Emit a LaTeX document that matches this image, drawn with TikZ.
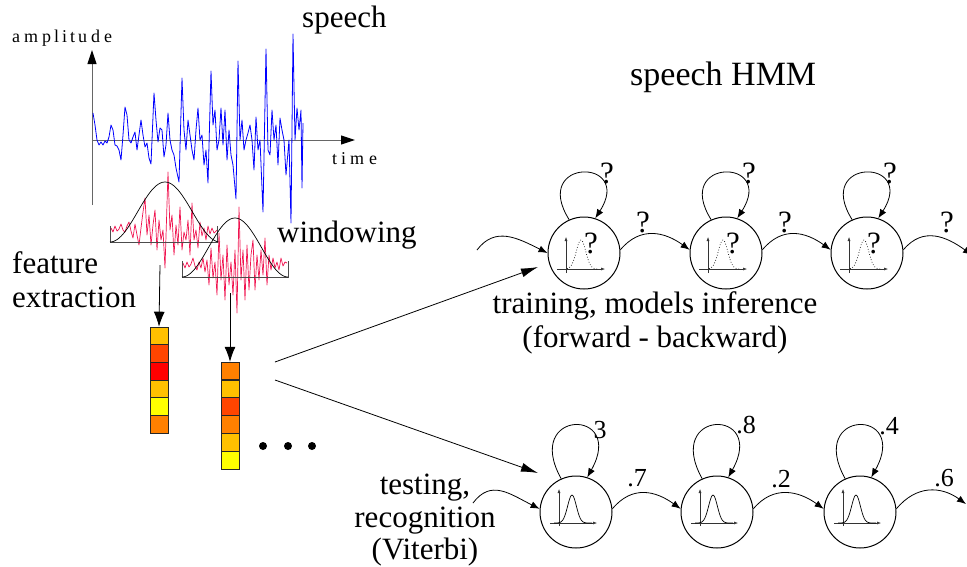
\documentclass[tikz,border=0pt]{standalone}
\usepackage{fontspec}
\setmainfont{Liberation Serif}
\usetikzlibrary{arrows.meta,calc}
\definecolor{amber}{RGB}{255,192,0}
\definecolor{orred}{RGB}{255,69,0}
\definecolor{fred}{RGB}{255,0,0}
\definecolor{yel}{RGB}{255,255,0}
\definecolor{org}{RGB}{255,128,0}
\definecolor{sig}{RGB}{0,0,255}
\definecolor{win}{RGB}{240,20,80}
\tikzset{
  lbl/.style={inner sep=0, font=\fontsize{31}{34}\selectfont},
  title/.style={inner sep=0, font=\fontsize{34}{38}\selectfont},
  axlbl/.style={inner sep=0, font=\fontsize{18}{21}\selectfont},
  qm/.style={inner sep=0, font=\fontsize{31}{33}\selectfont},
  prob/.style={inner sep=0, font=\fontsize{26}{28}\selectfont},
  state/.style={circle, draw, line width=1pt, minimum size=72pt, inner sep=0},
  tr/.style={line width=0.8pt, -{Latex[length=9pt,width=7pt]}},
  bigarrow/.style={line width=0.8pt, -{Latex[length=17pt,width=9pt]}},
  downarrow/.style={line width=0.8pt, -{Latex[length=15pt,width=11pt]}},
  axis/.style={black!60, line width=1pt, -{Triangle[length=14pt,width=9pt,color=black]}},
  cell/.style={rectangle, draw=black!85, line width=0.6pt, minimum width=18pt, minimum height=17.7pt, inner sep=0},
  dotmark/.style={circle, fill, minimum size=8pt, inner sep=0},
  minaxis/.style={black!80, line width=0.5pt, -{Latex[length=4pt,width=3pt]}},
  % emission density drawn inside an untrained state
  pdfunknown/.pic={
    \draw[minaxis] (-18,20) -- (-18,-16);
    \draw[minaxis] (-27,16) -- (21,16);
    \draw[dotted, line width=0.7pt] plot[domain=-17:14, samples=40, smooth]
      (\x, {16-29*exp(-(\x+3)*(\x+3)/45)});
    \node[qm] (-q) at (7,-10) {?};
  },
  % emission density drawn inside a trained state
  pdfknown/.pic={
    \draw[minaxis] (-17,14) -- (-17,-23);
    \draw[minaxis] (-26,11) -- (21,11);
    \draw[line width=0.7pt] plot[domain=-22:16, samples=40, smooth]
      (\x, {11-28*exp(-(\x+4)*(\x+4)/38)});
  }
}
\begin{document}
\begin{tikzpicture}[x=1pt,y=-1pt]
\useasboundingbox (0,0) rectangle (967,566);

% ---------- speech signal ----------
\node[lbl, anchor=base west] (speech) at (302,27) {speech};
\node[axlbl, anchor=base west] (ampl) at (12,42)
  {a\kern4pt m\kern4pt p\kern3pt l\kern3pt i\kern3pt t\kern3pt u\kern4pt d\kern4pt e};
\node[axlbl, anchor=base west] (time) at (332,164) {t\kern4pt i\kern4pt m\kern5pt e};
\coordinate (yb) at (92,205);
\coordinate (yt) at (92,50);
\coordinate (xl) at (92,140);
\coordinate (xr) at (355,140);
\draw[axis] (yb) -- (yt);
\draw[axis] (xl) -- (xr);

\draw[sig, line width=0.8pt, line join=round] plot coordinates {
(93,113) (95,125) (97,140) (99,145) (101,142) (103,145) (105,141) (107,143)
(109,137) (111,125) (113,130) (115,145) (117,146) (119,150) (121,160) (123,135)
(125,107) (127,115) (129,140) (131,143) (133,137) (135,132) (137,150) (139,135)
(141,120) (143,135) (145,147) (147,143) (149,158) (151,164) (154,93) (156,120)
(158,142) (160,128) (162,130) (164,157) (166,145) (168,113) (170,140) (172,150)
(174,155) (176,168) (179,182) (182,78) (184,130) (186,150) (188,120) (190,135)
(192,150) (194,160) (196,130) (198,108) (200,140) (202,135) (204,165) (206,150)
(208,183) (211,71) (213,125) (215,110) (217,150) (219,140) (221,108) (223,145)
(225,110) (227,160) (229,130) (231,155) (233,165) (236,199) (238,61) (240,140)
(242,120) (244,150) (246,140) (248,133) (250,125) (252,140) (254,170) (256,117)
(258,150) (260,140) (263,212) (266,49) (268,150) (270,155) (272,110) (274,140)
(276,125) (278,165) (280,118) (282,130) (284,140) (286,175) (289,140) (291,223)
(293,34) (295,140) (297,108) (299,130) (301,110) (302,188) (303,123)};

% ---------- windowing ----------
\node[lbl, anchor=base west] (windowing) at (277,242) {windowing};
\draw[win, line width=0.7pt, line join=round] plot coordinates {
(111,228) (113,232) (115,226) (117,231) (119,229) (121,224) (123,230) (125,232)
(127,226) (129,222) (131,231) (133,238) (135,224) (137,235) (139,245) (141,228)
(143,212) (145,198) (147,235) (149,215) (151,245) (153,225) (155,210) (157,250)
(159,220) (161,240) (163,230) (165,268) (168,172) (170,230) (172,215) (174,255)
(176,225) (178,245) (180,207) (182,250) (184,232) (186,240) (188,220) (190,255)
(192,203) (194,240) (196,230) (198,248) (200,222) (202,236) (204,228) (206,240)
(208,226) (210,234) (212,228) (214,233) (217,230)};
\draw[black!70, line width=0.9pt] (110,226) -- (110,242) -- (217,242) -- (217,226);
\draw[line width=0.7pt] plot[domain=110:220, samples=60]
  (\x, {242-60*(0.5+0.5*cos(180*(\x-165)/55))});

\draw[win, line width=0.7pt, line join=round] plot coordinates {
(183,263) (185,268) (187,262) (189,267) (191,264) (193,258) (195,266) (197,270)
(199,262) (201,268) (203,258) (205,272) (207,260) (209,285) (211,248) (213,278)
(215,262) (217,295) (219,233) (221,280) (223,255) (225,300) (227,245) (229,285)
(231,262) (233,295) (235,250) (237,313) (239,207) (241,280) (243,250) (245,300)
(247,245) (249,290) (251,255) (253,240) (255,290) (257,255) (259,280) (261,250)
(263,275) (265,238) (267,285) (269,255) (271,270) (273,258) (275,268) (277,262)
(279,270) (281,258) (283,266) (285,262) (287,263)};
\draw[black!70, line width=0.9pt] (182,261) -- (182,277) -- (288,277) -- (288,261);
\draw[line width=0.7pt] plot[domain=182:288, samples=60]
  (\x, {277-59*(0.5+0.5*cos(180*(\x-235)/53))});

% ---------- feature vectors ----------
\node[lbl, anchor=base west] (feat1) at (12,273) {feature};
\node[lbl, anchor=base west] (feat2) at (12,307) {extraction};
\foreach \col [count=\i] in {amber,orred,fred,amber,yel,org}
  \node[cell, fill=\col] (va\i) at (159,{327+17.67*(\i-0.5)}) {};
\foreach \col [count=\i] in {org,amber,orred,org,amber,yel}
  \node[cell, fill=\col] (vb\i) at (230,{362+17.83*(\i-0.5)}) {};
\coordinate (da) at (160,265);
\coordinate (db) at (230,293);
\draw[downarrow] (da) -- (va1.north);
\draw[downarrow] (db) -- (vb1.north);
\node[dotmark] (dot1) at (263,446) {};
\node[dotmark] (dot2) at (288,446) {};
\node[dotmark] (dot3) at (312,446) {};

\coordinate (fa) at (275,362);
\coordinate (fb) at (275,380);
\coordinate (ta) at (538,267);
\coordinate (tb) at (538,473);
\draw[bigarrow] (fa) -- (ta);
\draw[bigarrow] (fb) -- (tb);

% ---------- HMM being trained ----------
\node[title, anchor=base west] (hmm) at (630,85) {speech HMM};
\node[state] (s1) at (584,253) {};
\node[state] (s2) at (726,253) {};
\node[state] (s3) at (867,253) {};
\pic (p1) at (s1) {pdfunknown};
\pic (p2) at (s2) {pdfunknown};
\pic (p3) at (s3) {pdfunknown};
\foreach \s in {s1,s2,s3}{
  \draw[tr] (\s.114) .. controls ($(\s.114)+(-39,-62)$) and ($(\s.72)+(39,-61)$) .. (\s.72);
  \node[qm] (\s loop) at ($(\s)+(23,-80)$) {?};
}
\coordinate (tin) at (477,250);
\coordinate (tout) at (972,255);
\draw[tr] (tin) .. controls ($(tin)+(18,-24)$) and ($(s1.180)+(-30,-15)$) .. (s1.180);
\draw[tr] (s1.5) .. controls ($(s1.5)+(20,-24)$) and ($(s2.175)+(-25,-18)$) .. (s2.175);
\draw[tr] (s2.5) .. controls ($(s2.5)+(20,-24)$) and ($(s3.175)+(-25,-18)$) .. (s3.175);
\draw[tr] (s3.5) .. controls ($(s3.5)+(20,-24)$) and ($(tout)+(-25,-18)$) .. (tout);
\node[qm] (q12) at (643,222) {?};
\node[qm] (q23) at (785,222) {?};
\node[qm] (q3o) at (947,222) {?};
\node[lbl, anchor=base] (train1) at (655,313) {training, models inference};
\node[lbl, anchor=base] (train2) at (655,347) {(forward - backward)};

% ---------- HMM used for recognition ----------
\node[state] (r1) at (576,512) {};
\node[state] (r2) at (717,512) {};
\node[state] (r3) at (860,512) {};
\pic (k1) at (r1) {pdfknown};
\pic (k2) at (r2) {pdfknown};
\pic (k3) at (r3) {pdfknown};
\foreach \s in {r1,r2,r3}
  \draw[tr] (\s.114) .. controls ($(\s.114)+(-39,-70)$) and ($(\s.72)+(39,-70)$) .. (\s.72);
\node[prob] (l1) at (600,430) {3};
\node[prob] (l2) at (746,425) {.8};
\node[prob] (l3) at (889,426) {.4};
\coordinate (rin) at (473,503);
\coordinate (rout) at (966,504);
\draw[tr] (rin) .. controls ($(rin)+(18,-24)$) and ($(r1.175)+(-30,-15)$) .. (r1.175);
\draw[tr] (r1.5) .. controls ($(r1.5)+(20,-24)$) and ($(r2.175)+(-25,-18)$) .. (r2.175);
\draw[tr] (r2.5) .. controls ($(r2.5)+(20,-24)$) and ($(r3.175)+(-25,-18)$) .. (r3.175);
\draw[tr] (r3.5) .. controls ($(r3.5)+(20,-24)$) and ($(rout)+(-25,-18)$) .. (rout);
\node[prob] (t12) at (637,478) {.7};
\node[prob] (t23) at (781,479) {.2};
\node[prob] (t3o) at (944,478) {.6};
\node[lbl, anchor=base] (test1) at (425,494) {testing,};
\node[lbl, anchor=base] (test2) at (425,527) {recognition};
\node[lbl, anchor=base] (test3) at (425,559) {(Viterbi)};
\end{tikzpicture}
\end{document}
